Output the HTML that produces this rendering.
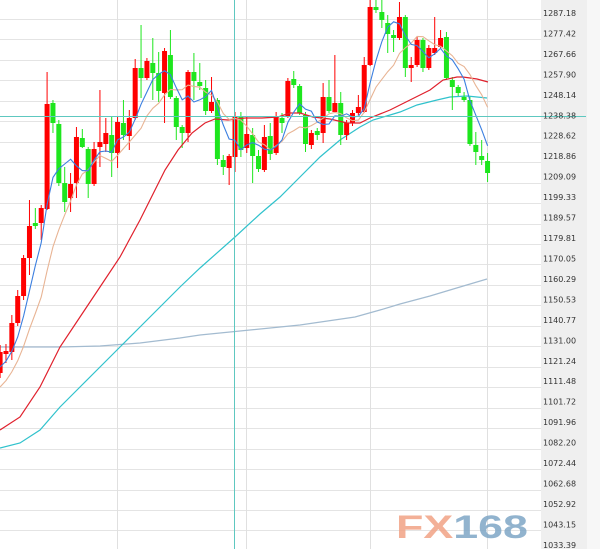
<!DOCTYPE html>
<html>
<head>
<meta charset="utf-8">
<style>
  html,body{margin:0;padding:0;background:#fff;}
  body{width:600px;height:549px;overflow:hidden;}
  svg{display:block;}
  .lbl{font-family:"DejaVu Sans","Liberation Sans",sans-serif;font-size:8px;fill:#333;}
</style>
</head>
<body>
<svg id="chart" width="600" height="549" viewBox="0 0 600 549" xmlns="http://www.w3.org/2000/svg">
  <rect x="0" y="0" width="600" height="549" fill="#ffffff"/>
  <rect x="541" y="0" width="46" height="549" fill="#efefef"/>
  <rect x="587" y="0" width="13" height="549" fill="#f7f7f7"/>
  <g id="grid"></g>
  <g id="vgrid" stroke="#e0e0e0" stroke-width="1">
    <line x1="117.5" y1="0" x2="117.5" y2="549"/>
    <line x1="246.5" y1="0" x2="246.5" y2="549"/>
    <line x1="370.5" y1="0" x2="370.5" y2="549"/>
    <line x1="487.5" y1="0" x2="487.5" y2="549"/>
  </g>
  <!-- FX168 logo -->
  <text x="396" y="538" textLength="132" lengthAdjust="spacingAndGlyphs" font-family="Liberation Sans, sans-serif" font-weight="bold" font-size="32" opacity="0.85"><tspan fill="#f2a386">FX</tspan><tspan fill="#7ea6c6">168</tspan></text>
  <!-- long MA -->
  <polyline fill="none" stroke="#a3bbd0" stroke-width="1.2" points="0,347 60,347 100,346 140,343 180,338 200,335 250,330 300,325 355,317 380,310 400,304 430,296 460,287 487,279"/>
  <!-- teal MA -->
  <polyline fill="none" stroke="#30c2cc" stroke-width="1.2" points="0,448 20,443 40,430 60,407 80,387 100,367 120,347 140,327 160,307 180,287 200,268 235,237 260,214 280,197 300,177 320,157 340,140 360,127 373,120 390,115 400,112 417,105 437,100 450,97 467,96 477,97 487,98"/>
  <g id="candles"></g>
  <!-- red MA -->
  <polyline fill="none" stroke="#e0202c" stroke-width="1.2" points="0,430 20,417 40,387 60,347 80,317 100,287 120,257 140,220 150,200 165,170 178,150 192,133 205,123 215,119 228,120 245,118 262,118 278,117 290,113 300,113 313,117 330,119 347,123 360,123 370,118 390,110 410,100 430,90 443,80 457,77 463,77 477,79 488,82"/>
  <g id="mas"></g>
  <!-- crosshair -->
  <line x1="0" y1="116.5" x2="586" y2="116.5" stroke="#5ec8c0" stroke-width="1"/>
  <line x1="234.5" y1="0" x2="234.5" y2="549" stroke="#5ec8c0" stroke-width="1"/>
  <!-- axis labels -->
  <g class="lbl">
    <text x="543" y="16.0">1287.18</text>
    <text x="543" y="36.5">1277.42</text>
    <text x="543" y="56.9">1267.66</text>
    <text x="543" y="77.4">1257.90</text>
    <text x="543" y="97.8">1248.14</text>
    <text x="543" y="118.3">1238.38</text>
    <text x="543" y="138.7">1228.62</text>
    <text x="543" y="159.2">1218.86</text>
    <text x="543" y="179.7">1209.09</text>
    <text x="543" y="200.1">1199.33</text>
    <text x="543" y="220.6">1189.57</text>
    <text x="543" y="241.0">1179.81</text>
    <text x="543" y="261.5">1170.05</text>
    <text x="543" y="282.0">1160.29</text>
    <text x="543" y="302.4">1150.53</text>
    <text x="543" y="322.9">1140.77</text>
    <text x="543" y="343.3">1131.00</text>
    <text x="543" y="363.8">1121.24</text>
    <text x="543" y="384.2">1111.48</text>
    <text x="543" y="404.7">1101.72</text>
    <text x="543" y="425.2">1091.96</text>
    <text x="543" y="445.6">1082.20</text>
    <text x="543" y="466.1">1072.44</text>
    <text x="543" y="486.5">1062.68</text>
    <text x="543" y="507.0">1052.92</text>
    <text x="543" y="527.5">1043.15</text>
    <text x="543" y="547.9">1033.39</text>
  </g>
</svg>
<script>
(function(){
  var NS = "http://www.w3.org/2000/svg";
  function el(parent, name, attrs){
    var e = document.createElementNS(NS, name);
    for (var k in attrs) e.setAttribute(k, attrs[k]);
    parent.appendChild(e);
    return e;
  }
  // horizontal grid
  var g = document.getElementById('grid');
  for (var k=0;k<26;k++){
    var y = Math.round(19 + 20.458*k) + 0.5;
    el(g,'line',{x1:0,x2:541,y1:y,y2:y,stroke:'#e4e4e4','stroke-width':1});
  }
  // candle data: [open, close, high, low] in pixel y
  var D = [
    [373,352,345,378],[354,351,344,363],[352,323,315,360],[323,296,290,326],[296,258,255,300],
    [258,226,200,275],[223,226,208,229],[223,208,205,240],[209,104,72,210],[103,123,100,133],
    [124,183,120,186],[183,202,167,212],[198,184,173,212],[183,137,127,198],[138,147,129,148],
    [149,184,147,198],[184,149,142,186],[147,142,90,167],[144,133,118,152],[135,153,117,177],
    [153,122,117,168],[123,135,100,140],[136,118,110,150],[118,68,59,120],[68,78,25,98],
    [78,61,58,80],[63,73,38,100],[73,91,52,102],[93,51,48,123],[55,97,30,99],
    [98,127,96,140],[127,133,125,148],[133,72,70,142],[72,81,53,100],[82,86,63,90],
    [88,111,80,115],[111,102,77,113],[100,159,98,165],[160,167,155,175],[168,156,154,185],
    [157,117,112,172],[117,150,112,157],[148,134,117,153],[135,156,128,183],[156,169,150,172],
    [170,137,125,172],[136,154,123,160],[153,117,112,155],[118,123,113,133],[117,81,78,118],
    [79,85,71,88],[86,113,84,115],[115,144,112,152],[145,133,130,149],[131,135,128,140],
    [133,97,83,143],[97,111,80,113],[112,103,55,113],[103,135,92,145],[135,123,120,140],
    [123,113,110,126],[113,107,95,115],[112,65,57,113],[65,7,0,66],[7,10,0,13],
    [12,20,0,28],[23,34,15,53],[35,38,30,52],[38,17,2,40],[17,68,15,77],
    [68,65,57,82],[65,40,37,67],[40,68,38,72],[68,48,45,70],[53,48,17,55],
    [47,38,30,48],[37,78,32,80],[80,87,77,110],[87,93,85,96],[97,100,92,102],
    [100,144,97,146],[145,152,132,165],[156,160,140,165],[161,173,153,182]
  ];
  var pitch = 5.873, x0 = 0.1;
  var cg = document.getElementById('candles');
  var closes = [415,410,407,403,400,380,372,368,363];
  var pre = closes.length;
  D.forEach(function(d,i){
    var x = x0 + i*pitch;
    var o=d[0], c=d[1], h=d[2], l=d[3];
    var up = c < o;
    var col = up ? '#ff0000' : '#1ee61e';
    el(cg,'line',{x1:x,x2:x,y1:h,y2:l,stroke:col,'stroke-width':1});
    var top = Math.min(o,c), hh = Math.max(Math.abs(o-c),1.5);
    el(cg,'rect',{x:x-2.5,y:top,width:5,height:hh,fill:col});
    closes.push(c);
  });
  function ma(n){
    var pts=[];
    for (var i=0;i<D.length;i++){
      var idx = i+pre, s=0;
      for (var j=0;j<n;j++) s += closes[idx-j];
      pts.push((x0+i*pitch).toFixed(1)+','+(s/n).toFixed(1));
    }
    return pts.join(' ');
  }
  var mg = document.getElementById('mas');
  el(mg,'polyline',{points:ma(10),fill:'none',stroke:'#e8b494','stroke-width':1.1});
  el(mg,'polyline',{points:ma(5),fill:'none',stroke:'#3b7fe0','stroke-width':1.1});
})();
</script>
</body>
</html>
